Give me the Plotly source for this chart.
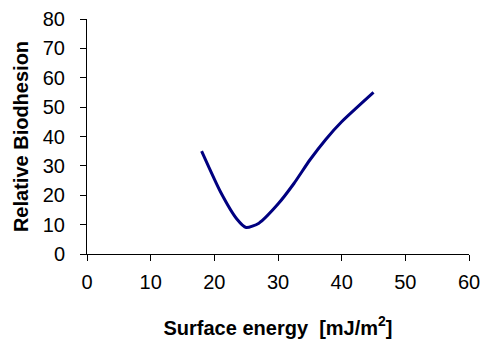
import plotly.graph_objects as go

# Relative biodhesion vs. surface energy
surface_energy = [18, 21, 23.5, 25, 27, 30, 32.5, 35, 37.5, 40, 45]
biodhesion = [35, 21, 12, 9, 10.5, 17, 24, 32, 39, 45, 55]

fig = go.Figure()
fig.add_trace(go.Scatter(
    x=surface_energy, y=biodhesion, mode="lines",
    line=dict(color="#000080", width=3, shape="spline", smoothing=0.6),
    showlegend=False, hoverinfo="skip",
))

axis_common = dict(
    showgrid=False, zeroline=False, showline=True, linecolor="black", linewidth=1,
    ticks="outside", ticklen=6, tickcolor="black", tickwidth=1, automargin=False,
    tickfont=dict(family="Arial, Liberation Sans", size=20, color="black"),
)

fig.update_layout(
    width=481, height=345,
    margin=dict(l=87, r=12, t=19, b=91),
    paper_bgcolor="white", plot_bgcolor="white",
    xaxis=dict(range=[0, 60], dtick=10, ticklabelstandoff=4,
               title=dict(text="<b>Surface energy  [mJ/m<sup>2</sup>]</b>",
                          font=dict(family="Arial, Liberation Sans", size=20, color="black"),
                          standoff=28),
               **axis_common),
    yaxis=dict(range=[0, 80], dtick=10, ticklabelstandoff=11,
               title=dict(text="<b>Relative Biodhesion</b>",
                          font=dict(family="Arial, Liberation Sans", size=20, color="black"),
                          standoff=8),
               **axis_common),
)

fig.write_html("out.html")
